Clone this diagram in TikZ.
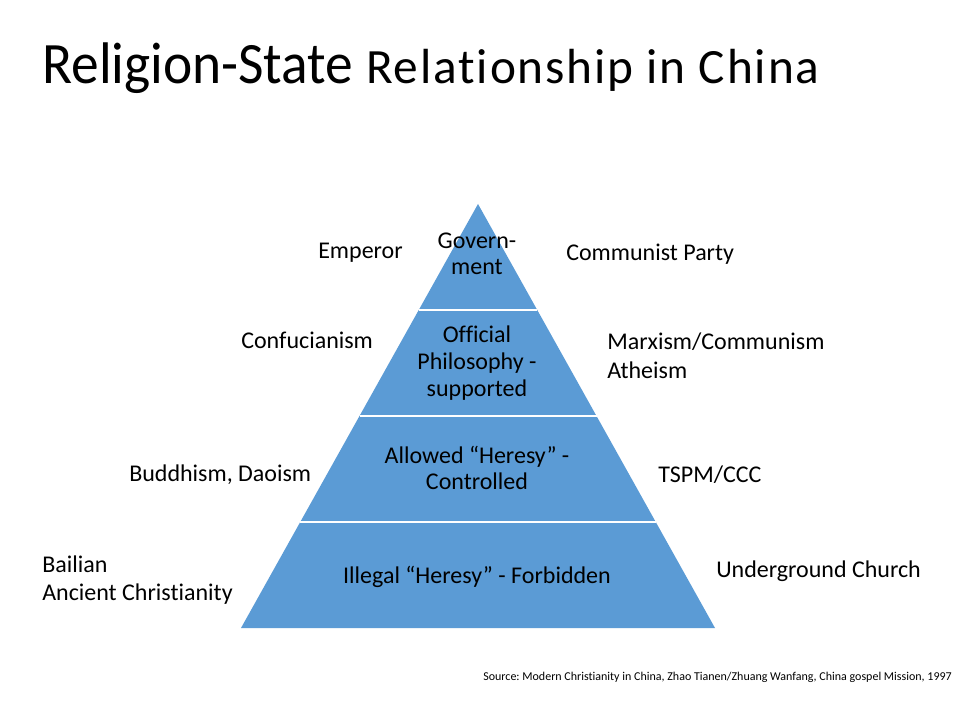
\documentclass[tikz,border=0pt]{standalone}
\usepackage{fontspec}
\setmainfont{Carlito}[Ligatures=CommonOff]
\newfontfamily\titleA{Carlito}[FakeStretch=0.945, Ligatures=CommonOff]
\newfontfamily\titleB{Carlito}[LetterSpace=3.8, Ligatures=CommonOff]
\usetikzlibrary{calc}
\definecolor{pyr}{HTML}{5B9BD5}
\frenchspacing
\begin{document}
\begin{tikzpicture}[x=0.75pt,y=-0.75pt,
  lab/.style={inner sep=0pt, font=\fontsize{18}{21}\selectfont, align=left, anchor=base west},
  inlab/.style={inner sep=0pt, font=\fontsize{18}{19.5}\selectfont, align=center, anchor=base},
  sep/.style={white, line width=1.2pt},
]
\fill[white] (0,0) rectangle (960,720);
\useasboundingbox (0,0) rectangle (960,720);
% title
\node (title) [anchor=base west, inner sep=0pt] at (42,84)
  {\titleA\fontsize{44}{50}\selectfont Religion-State \titleB\fontsize{37}{40}\selectfont Relationship in China};
% pyramid
\coordinate (apex) at (478,204);
\coordinate (bl) at (241,628);
\coordinate (br) at (715,628);
\fill[pyr] (apex) -- (br) -- (bl) -- cycle;
\draw[sep] ($(apex)!0.25!(bl)$) -- ($(apex)!0.25!(br)$);
\draw[sep] ($(apex)!0.5!(bl)$) -- ($(apex)!0.5!(br)$);
\draw[sep] ($(apex)!0.75!(bl)$) -- ($(apex)!0.75!(br)$);
% inside labels (anchor = baseline of last line)
\node (gov) [inlab] at (477,275) {Govern-\\ment};
\node (off) [inlab, font=\fontsize{18}{19.9}\selectfont] at (477,396) {Official\\Philosophy -\\supported};
\node (allow) [inlab] at (477,489) {Allowed “Heresy” -\\Controlled};
\node (illegal) [inlab] at (477,583) {Illegal “Heresy” - Forbidden};
% left labels
\node (emp) [lab] at (318,259) {Emperor};
\node (conf) [lab] at (241,348) {Confucianism};
\node (budd) [lab] at (129,481) {Buddhism, Daoism};
\node (bail) [lab] at (42,600) {Bailian\\Ancient Christianity};
% right labels
\node (cp) [lab] at (566,261) {Communist Party};
\node (marx) [lab] at (607,378) {Marxism/Communism\\Atheism};
\node (tspm) [lab] at (658,482) {TSPM/CCC};
\node (ug) [lab] at (716,577) {Underground Church};
% source
\node (src) [anchor=base west, inner sep=0pt, font=\fontsize{9}{10.8}\selectfont] at (483,680)
  {Source: Modern Christianity in China, Zhao Tianen/Zhuang Wanfang, China gospel Mission, 1997};
\end{tikzpicture}
\end{document}
